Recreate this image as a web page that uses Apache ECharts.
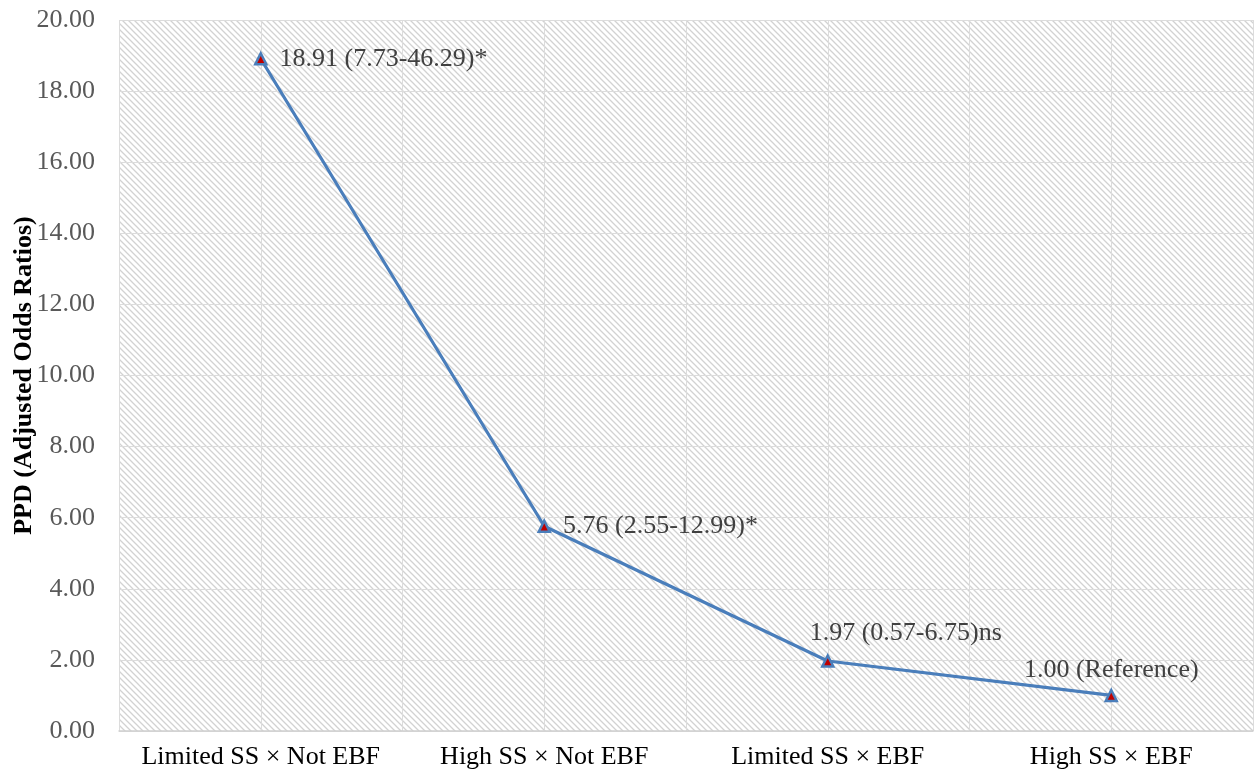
<!DOCTYPE html>
<html>
<head>
<meta charset="utf-8">
<script src="https://cdn.jsdelivr.net/npm/echarts@6/dist/echarts.min.js"></script>
<style>
  html, body { margin: 0; padding: 0; background: #fff; }
  #chart { width: 1254px; height: 774px; }
</style>
</head>
<body>
<div id="chart"></div>
<script>
const categories = ['Limited SS × Not EBF', 'High SS × Not EBF', 'Limited SS × EBF', 'High SS × EBF'];
const oddsRatios = [18.91, 5.76, 1.97, 1.00];
const pointLabels = ['18.91 (7.73-46.29)*', '5.76 (2.55-12.99)*', '1.97 (0.57-6.75)ns', '1.00 (Reference)'];
const gridSlots = ['a', 'b', 'c', 'd', 'e', 'f', 'g', 'h'];

// diagonal hatch tile for the plot background
function hatchTile() {
  const s = 6;
  const c = document.createElement('canvas');
  c.width = s;
  c.height = s;
  const ctx = c.getContext('2d');
  ctx.fillStyle = '#ffffff';
  ctx.fillRect(0, 0, s, s);
  ctx.strokeStyle = '#d2d2d2';
  ctx.lineWidth = 1.3;
  ctx.beginPath();
  ctx.moveTo(-1, -1); ctx.lineTo(s + 1, s + 1);
  ctx.moveTo(-1, s - 1); ctx.lineTo(1, s + 1);
  ctx.moveTo(s - 1, -1); ctx.lineTo(s + 1, 1);
  ctx.stroke();
  return c;
}

const labelLayout = [
  { position: 'right', distance: 12, offset: [0, 0] },
  { position: 'right', distance: 12, offset: [0, 0] },
  { position: 'top', distance: 8, offset: [78, 0] },
  { position: 'top', distance: 6, offset: [0, 0] }
];

const chart = echarts.init(document.getElementById('chart'));
const font = '"Liberation Serif", "Times New Roman", serif';

chart.setOption({
  animation: false,
  grid: {
    left: 119,
    right: 1,
    top: 20,
    bottom: 43,
    containLabel: false,
    outerBoundsMode: 'none',
    show: true,
    borderWidth: 0,
    backgroundColor: { image: hatchTile(), repeat: 'repeat' }
  },
  xAxis: [
    {
      type: 'category',
      data: categories,
      boundaryGap: true,
      axisLine: { show: true, lineStyle: { color: '#d0d0d0', width: 1.5 } },
      axisTick: { show: false },
      splitLine: { show: false },
      axisLabel: { interval: 0, color: '#000', fontFamily: font, fontSize: 26, margin: 13 }
    },
    {
      type: 'category',
      data: gridSlots,
      position: 'bottom',
      boundaryGap: true,
      axisLine: { show: false },
      axisTick: { show: false },
      axisLabel: { show: false },
      splitLine: { show: true, interval: 0, lineStyle: { color: '#dcdcdc', width: 1 } }
    }
  ],
  yAxis: {
    type: 'value',
    min: 0,
    max: 20,
    interval: 2,
    name: 'PPD (Adjusted Odds Ratios)',
    nameLocation: 'middle',
    nameGap: 82,
    nameMoveOverlap: false,
    nameTextStyle: { color: '#000', fontFamily: font, fontSize: 26, fontWeight: 'bold' },
    axisLine: { show: false },
    axisTick: { show: false },
    axisLabel: {
      color: '#595959',
      fontFamily: font,
      fontSize: 26,
      margin: 24,
      formatter: v => v.toFixed(2)
    },
    splitLine: { show: true, lineStyle: { color: '#dcdcdc', width: 1 } }
  },
  series: [{
    type: 'line',
    xAxisIndex: 0,
    data: oddsRatios.map((v, i) => ({
      value: v,
      label: {
        show: true,
        formatter: pointLabels[i],
        position: labelLayout[i].position,
        distance: labelLayout[i].distance,
        offset: labelLayout[i].offset
      }
    })),
    lineStyle: { color: '#4a7ebb', width: 3.2 },
    symbol: 'triangle',
    symbolSize: 11,
    itemStyle: { color: '#c00000', borderColor: '#4a7ebb', borderWidth: 2.5 },
    label: { color: '#404040', fontFamily: font, fontSize: 26 }
  }]
});
</script>
</body>
</html>
